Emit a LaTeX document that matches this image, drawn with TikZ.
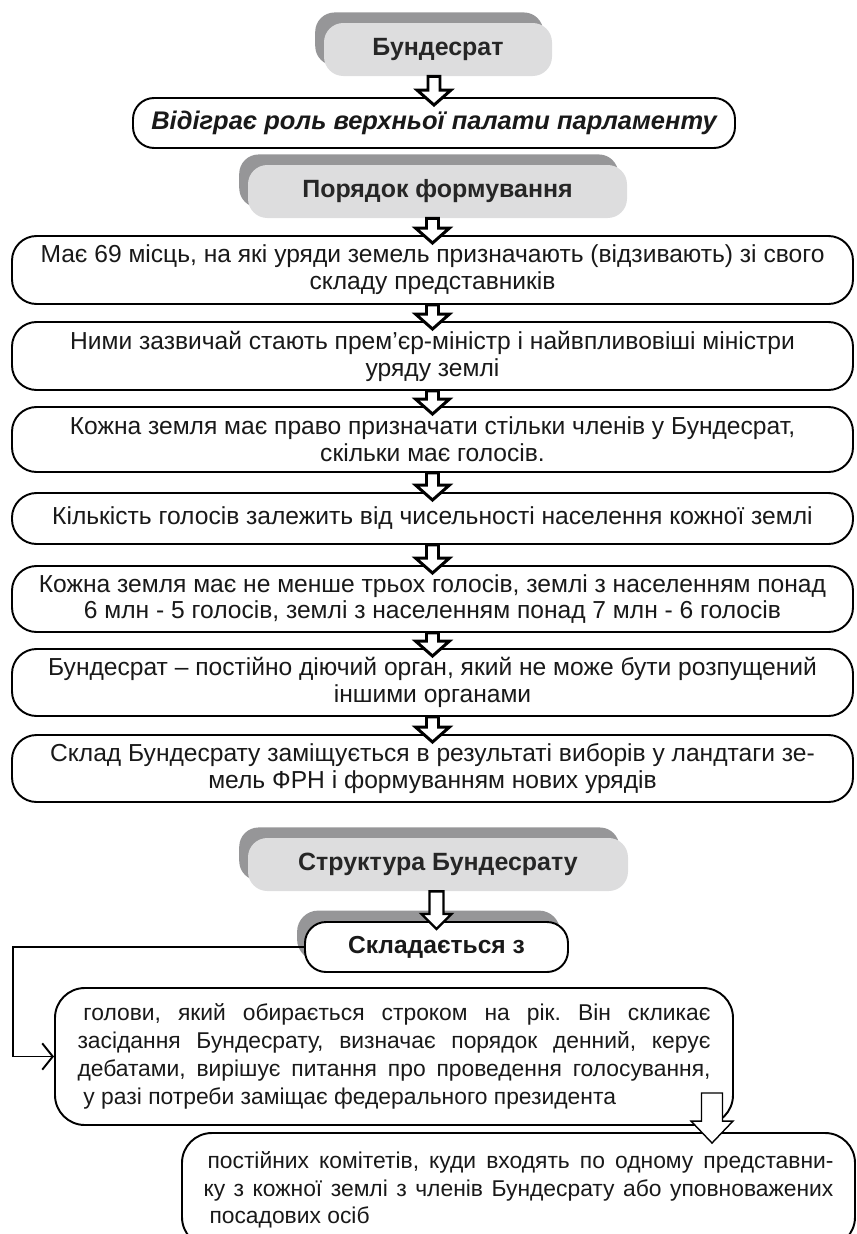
\documentclass[tikz,border=0pt]{standalone}
\usepackage{fontspec}
\setmainfont{Liberation Sans}
\usetikzlibrary{calc, arrows.meta, shadows}
\frenchspacing

\definecolor{lightgr}{RGB}{221,221,222}
\definecolor{darkgr}{RGB}{150,150,152}
\newlength{\px}
\setlength{\px}{0.02cm}
\newcommand{\bodyfont}{\fontsize{14pt}{15.3pt}\selectfont}
\newcommand{\headfont}{\fontsize{14.2pt}{15.3pt}\selectfont\bfseries}
\newcommand{\smallfont}{\fontsize{13pt}{15.8pt}\selectfont}
% one justified line of given width
\newcommand{\jline}[2]{\makebox[#1\px][s]{#2}}

% hollow block arrow from one node to the next
\newcommand{\openarrow}[6][]{%
  \draw[openarr, #1] let \p1=(#2), \p2=(#3) in
    (\x2-#4,\y1) -- (\x2-#4,\y2-8\px+#6) -- (\x2-#5,\y2-8\px+#6)
    -- (\x2,\y2-8\px) -- (\x2+#5,\y2-8\px+#6) -- (\x2+#4,\y2-8\px+#6)
    -- (\x2+#4,\y1) -- cycle;}

\begin{document}
\begin{tikzpicture}[x=1\px, y=-1\px,
  box/.style={draw, line width=1.1pt, rounded corners=14pt, fill=white,
              minimum width=841\px, align=center, inner sep=0pt,
              font=\bodyfont, text=black!90},
  head/.style={fill=lightgr, rounded corners=11pt, font=\headfont,
               text=black!85, minimum height=53\px, inner sep=0pt,
               general shadow={fill=darkgr, shadow xshift=-5pt, shadow yshift=6pt}},
  openarr/.style={draw, fill=white, line width=1.7pt, line join=miter},
  link/.style={line width=1.1pt, -{Straight Barb[length=6pt, width=15pt]}}
]
\useasboundingbox (0,0) rectangle (856,1234);

\node[head, minimum width=228\px] (bund) at (438,49.5) {Бундесрат};
\node[box, minimum width=602\px, minimum height=50\px, rounded corners=12pt,
      font=\fontsize{14.5pt}{15.3pt}\selectfont\bfseries\itshape] (role) at (434,123)
  {Відіграє роль верхньої палати парламенту};
\node[head, minimum width=379\px] (order) at (437.5,191.5) {Порядок формування};

\node[box, minimum height=68\px] (s1) at (432.5,270)
  {Має 69 місць, на які уряди земель призначають (відзивають) зі свого\\складу представників};
\node[box, minimum height=68\px] (s2) at (432.5,356)
  {Ними зазвичай стають прем’єр-міністр і найвпливовіші міністри\\уряду землі};
\node[box, minimum height=65\px] (s3) at (432.5,439.5)
  {Кожна земля має право призначати стільки членів у Бундесрат,\\скільки має голосів.};
\node[box, minimum height=51\px] (s4) at (432.5,518.5)
  {Кількість голосів залежить від чисельності населення кожної землі};
\node[box, minimum height=66\px] (s5) at (432.5,599)
  {Кожна земля має не менше трьох голосів, землі з населенням понад\\6 млн - 5 голосів, землі з населенням понад 7 млн - 6 голосів};
\node[box, minimum height=67\px] (s6) at (432.5,682.5)
  {Бундесрат – постійно діючий орган, який не може бути розпущений\\іншими органами};
\node[box, minimum height=67\px] (s7) at (432.5,768.5)
  {Склад Бундесрату заміщується в результаті виборів у ландтаги зе-\\мель ФРН і формуванням нових урядів};

\openarrow{bund.south}{role.north}{6\px}{17\px}{15\px}
\openarrow{order.south}{s1.north}{6\px}{17\px}{15\px}
\foreach \a/\b in {s1/s2, s2/s3, s3/s4, s4/s5, s5/s6, s6/s7}
  \openarrow{\a.south}{\b.north}{6\px}{17\px}{15\px};

% structure part
\node[head, minimum width=380\px] (struct) at (438,864.5) {Структура Бундесрату};
\node[box, minimum width=263\px, minimum height=50\px, rounded corners=12pt,
      font=\fontsize{14pt}{15.3pt}\selectfont\bfseries,
      general shadow={fill=darkgr, shadow xshift=-4.5pt, shadow yshift=6.5pt}]
  (cons) at (436.5,947) {Складається з};
\openarrow[line width=1.3pt]{struct.south}{cons.north}{7\px}{15\px}{15\px}

\node[box, minimum width=678\px, font=\smallfont, minimum height=137\px,
      align=left, rounded corners=17pt] (chair) at (394,1056.5)
  {\jline{633}{\hspace*{6\px}голови, який обирається строком на рік. Він скликає}\\
   \jline{633}{засідання Бундесрату, визначає порядок денний, керує}\\
   \jline{633}{дебатами, вирішує питання про проведення голосування,}\\
   \hspace*{6\px}у разі потреби заміщає федерального президента};
\node[box, minimum width=673\px, font=\smallfont,
      minimum height=114\px, align=left, rounded corners=17pt] (comm) at (518.5,1190)
  {\jline{630}{\hspace*{4\px}постійних комітетів, куди входять по одному представни-}\\
   \jline{630}{ку з кожної землі з членів Бундесрату або уповноважених}\\
   \hspace*{6\px}посадових осіб};

\draw[link] (cons.west) -- ++(-291,0) |- (chair.west);
\openarrow[line width=0.8pt]{$(chair.south)+(318,-33)$}{$(comm.north)+(193.5,3)$}{10.5\px}{21\px}{22\px}
\end{tikzpicture}
\end{document}
